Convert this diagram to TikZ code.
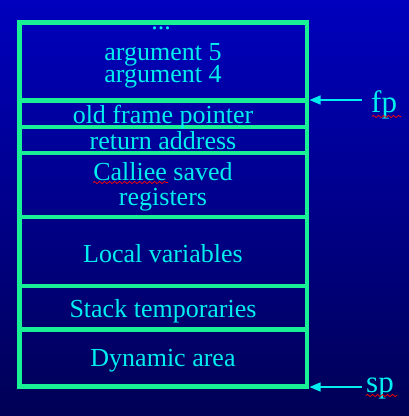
\documentclass[tikz,border=0pt]{standalone}
\usepackage{fontspec}
\setmainfont{Liberation Serif}
\usetikzlibrary{arrows.meta,decorations.pathmorphing}
\definecolor{bgtop}{RGB}{0,0,190}
\definecolor{bgbot}{RGB}{0,0,85}
\definecolor{frame}{RGB}{25,240,150}
\definecolor{txt}{RGB}{0,238,238}
\tikzset{
  lbl/.style={text=txt, font=\fontsize{26}{26}\selectfont, anchor=base, inner sep=0pt},
  ptr/.style={text=txt, font=\fontsize{31}{31}\selectfont, anchor=base west, inner sep=0pt},
  sep/.style={draw=frame, line width=4.5pt},
  arr/.style={draw=txt, line width=1.4pt, -{Triangle[length=11pt,width=9pt]}},
  squig/.style={draw=red, line width=0.7pt, decorate, decoration={snake, amplitude=1.1pt, segment length=5pt}}
}
\begin{document}
\begin{tikzpicture}[x=1pt,y=-1pt]
\useasboundingbox (0,0) rectangle (409,416);
\shade[top color=bgtop, bottom color=bgbot] (0,0) rectangle (409,416);
% frame
\draw[sep] (19.5,22.5) rectangle (307,386.5);
\draw[sep, line width=5.5pt] (19.5,100.5) -- (307,100.5);
\draw[sep] (19.5,127) -- (307,127);
\draw[sep] (19.5,153) -- (307,153);
\draw[sep] (19.5,217) -- (307,217);
\draw[sep] (19.5,286) -- (307,286);
\draw[sep] (19.5,329.5) -- (307,329.5);
% texts
\node[lbl] (dots) at (161,29) {...};
\node[lbl] (a5) at (163,60.5) {argument 5};
\node[lbl] (a4) at (163,82.5) {argument 4};
\node[lbl] (ofp) at (163,123) {old frame pointer};
\node[lbl] (ra) at (163,149) {return address};
\node[lbl] (cs) at (163,180) {Calliee saved};
\node[lbl] (rg) at (163,205) {registers};
\node[lbl] (lv) at (163,262) {Local variables};
\node[lbl] (st) at (163,317) {Stack temporaries};
\node[lbl] (da) at (163,366) {Dynamic area};
% pointers
\node[ptr] (fp) at (371,112) {fp};
\node[ptr] (sp) at (366,392) {sp};
\coordinate (fpS) at (362,100);
\coordinate (fpE) at (309.5,100);
\coordinate (spS) at (362,387);
\coordinate (spE) at (309.5,387);
\draw[arr] (fpS) -- (fpE);
\draw[arr] (spS) -- (spE);
% spell-check squiggles
\draw[squig] (372,116.5) -- (401,116.5);
\draw[squig] (366,395.5) -- (397,395.5);
\draw[squig] (93,182.5) -- (168,182.5);
\end{tikzpicture}
\end{document}
